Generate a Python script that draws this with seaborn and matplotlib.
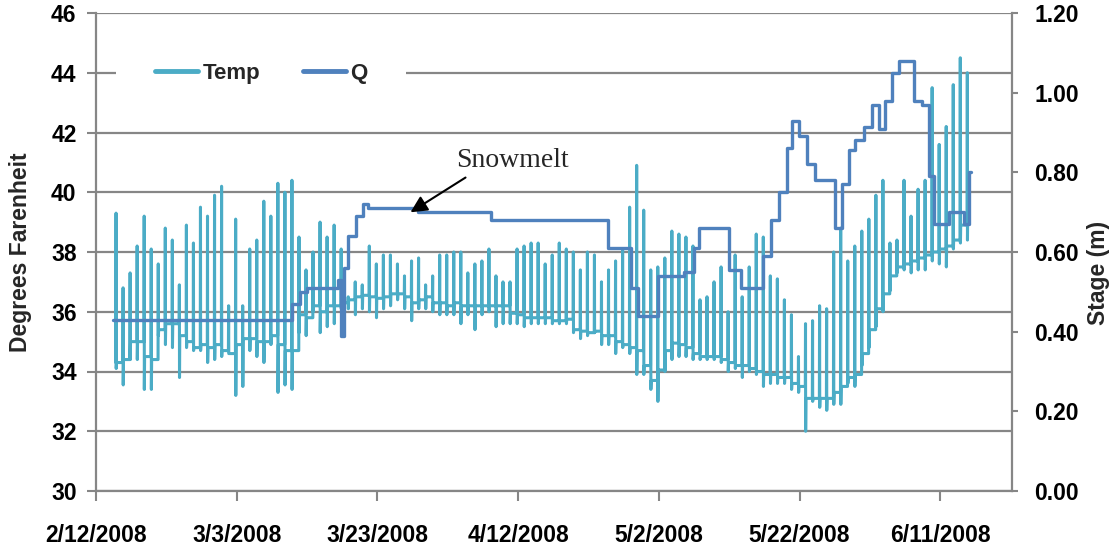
import numpy as np
import pandas as pd
import matplotlib
matplotlib.use("Agg")
import matplotlib.pyplot as plt
import matplotlib.dates as mdates
from matplotlib.lines import Line2D
import seaborn as sns

# ---------------- data ----------------
origin = pd.Timestamp("2008-02-12")
temp_first_day = 2.85          # days after 2/12/2008 of first daily spike

# daily temperature: spike top, spike bottom and the baseline level (deg F)
temp_peak = [39.3, 36.8, 37.3, 38.2, 39.2, 38.1, 37.6, 38.8, 38.4, 36.9, 38.9, 38.3, 39.5,
             39.2, 39.9, 40.2, 36.2, 39.1, 36.2, 38.1, 38.4, 39.7, 39.2, 40.3, 40.0, 40.4,
             38.5, 37.4, 38.0, 39.0, 38.5, 38.9, 38.1, 36.5, 37.0, 36.9, 38.2, 37.6, 37.9,
             37.9, 37.6, 37.2, 37.7, 37.8, 36.9, 37.2, 37.9, 37.9, 38.0, 38.0, 37.3, 37.6,
             37.7, 38.1,
             37.2, 37.0, 37.0, 38.1, 38.2, 38.3, 38.3, 37.6, 37.9, 38.3, 38.1, 38.0, 37.4,
             38.0, 37.9, 37.0, 37.4, 37.7, 38.1, 39.5, 40.9, 39.4, 37.4, 37.5, 37.8, 38.7,
             38.6, 38.5,
             38.2, 36.4, 36.5, 37.0, 37.5, 36.0, 37.9, 36.5, 37.5, 38.6, 38.5, 37.2, 37.1,
             36.4, 35.9, 34.5, 35.6, 35.7, 36.2, 36.1, 38.0, 38.8, 37.7, 38.2, 38.7, 39.1,
             39.9, 40.4, 38.3, 38.4, 40.4, 39.2, 40.1, 40.4, 43.5, 41.6, 42.2, 43.6, 44.5,
             44.0]
temp_low = [34.1, 33.55, 34.4, 34.4, 33.4, 33.4, 35.2, 34.9, 34.8, 33.8, 34.8, 34.7, 34.7,
            34.3, 34.4, 34.5, 34.6, 33.2, 33.5, 34.7, 34.5, 34.3, 34.9, 33.3, 33.55, 33.4,
            35.3, 35.2, 36.0, 35.3, 35.5, 35.6, 36.1, 36.1, 35.9, 36.1, 36.0, 35.8, 36.1,
            36.2, 36.4, 36.1, 35.7, 36.1, 36.1, 36.0, 35.9, 35.9, 35.9, 35.6, 35.9, 35.4,
            35.9, 36.0,
            35.5, 35.6, 35.6, 35.6, 35.5, 35.6, 35.6, 35.6, 35.6, 35.6, 35.6, 35.3, 35.1,
            35.2, 35.3, 34.9, 34.9, 34.6, 34.8, 34.6, 33.9, 33.9, 33.4, 33.0, 34.0, 34.4,
            34.5, 34.5,
            34.4, 34.4, 34.4, 34.4, 34.3, 34.0, 34.1, 33.8, 34.0, 33.9, 33.5, 33.6, 33.6,
            33.6, 33.4, 33.3, 32.0, 33.0, 32.8, 32.7, 32.9, 32.9, 33.6, 33.5, 34.2, 34.8,
            35.5, 36.0, 36.7, 37.3, 37.4, 37.3, 37.4, 37.4, 37.7, 37.6, 37.5, 38.1, 38.3,
            38.4]
temp_base = [34.3, 34.4, 35.0, 35.0, 34.5, 34.4, 35.4, 35.6, 35.6, 35.2, 35.0, 34.8, 34.9,
             34.8, 34.9, 34.7, 34.6, 34.9, 35.1, 35.1, 35.0, 35.0, 35.2, 34.9, 34.7, 34.7,
             35.9, 35.8, 36.2, 36.0, 36.2, 36.2, 36.3, 36.4, 36.5, 36.55, 36.5, 36.45, 36.5,
             36.6, 36.6, 36.5, 36.3, 36.4, 36.5, 36.3, 36.3, 36.2, 36.3, 36.2, 36.2, 36.2,
             36.2, 36.2,
             36.2, 36.2, 35.95, 35.9, 35.8, 35.8, 35.8, 35.8, 35.7, 35.7, 35.75, 35.4, 35.35,
             35.3, 35.35, 35.2, 35.2, 35.0, 34.9, 34.8, 34.7, 34.2, 33.7, 34.05, 34.7, 34.95,
             34.9, 34.8,
             34.6, 34.5, 34.5, 34.5, 34.4, 34.3, 34.2, 34.2, 34.1, 34.0, 33.9, 33.9, 33.8,
             33.8, 33.6, 33.5, 33.1, 33.1, 33.1, 33.1, 33.3, 33.5, 33.8, 33.9, 34.6, 35.4,
             36.1, 36.6, 37.2, 37.5, 37.6, 37.7, 37.8, 37.9, 38.0, 38.1, 38.2, 38.4, 38.9,
             39.4]

# stage Q (m): step changes, day offsets after 2/12/2008
q_day = [2.42, 27.92, 29.06, 30.06, 34.33, 34.76, 35.19, 35.75, 36.89, 37.89, 38.60,
         45.73, 56.13, 72.79, 76.07, 77.07, 79.91, 83.62, 85.04, 85.75, 90.03, 91.74,
         94.87, 96.01, 97.15, 98.15, 98.86, 99.86, 101.0, 102.14, 104.99, 105.98, 106.98,
         107.83, 109.12, 110.26, 111.25, 112.11, 113.11, 114.1, 116.24, 117.38, 118.38,
         119.09, 121.23, 123.36, 124.07, 124.36]
q_stage = [0.43, 0.47, 0.50, 0.51, 0.53, 0.39, 0.56, 0.64, 0.69, 0.72, 0.71,
           0.70, 0.68, 0.61, 0.51, 0.44, 0.54, 0.55, 0.61, 0.66, 0.555, 0.51,
           0.59, 0.68, 0.75, 0.86, 0.93, 0.89, 0.82, 0.78, 0.66, 0.77, 0.855,
           0.88, 0.915, 0.97, 0.91, 0.98, 1.05, 1.08, 0.98, 0.97, 0.79,
           0.67, 0.70, 0.67, 0.80, 0.80]

tick_dates = ["2008-02-12", "2008-03-03", "2008-03-23", "2008-04-12",
              "2008-05-02", "2008-05-22", "2008-06-11"]
tick_labels = ["2/12/2008", "3/3/2008", "3/23/2008", "4/12/2008",
               "5/2/2008", "5/22/2008", "6/11/2008"]
left_ticks = [30, 32, 34, 36, 38, 40, 42, 44, 46]
right_ticks = [0.0, 0.2, 0.4, 0.6, 0.8, 1.0, 1.2]

# ---------------- build series ----------------
t_off, t_val = [temp_first_day - 0.03], [temp_base[0]]
for k in range(len(temp_peak)):
    d = temp_first_day + k
    t_off += [d, d + 0.02, d + 0.06, d + 0.97]
    t_val += [temp_peak[k], temp_low[k], temp_base[k], temp_base[k]]
t_off = t_off[:-1]
t_val = t_val[:-1]
temp_df = pd.DataFrame({"date": origin + pd.to_timedelta(t_off, unit="D"), "temp": t_val})
q_df = pd.DataFrame({"date": origin + pd.to_timedelta(q_day, unit="D"), "stage": q_stage})

# ---------------- style ----------------
sns.set_theme(style="white")
plt.rcParams["font.family"] = ["Liberation Sans", "DejaVu Sans"]
plt.rcParams["font.weight"] = "bold"
plt.rcParams["axes.labelweight"] = "bold"

TEMP_C = "#4BACC6"
Q_C = "#4F81BD"
GRID_C = "#868686"
FS = 16.5

W, H = 1112, 550
fig = plt.figure(figsize=(W / 100, H / 100), dpi=100)
x0, x1, y0, y1 = 96, 1012, 13, 491
ax = fig.add_axes([x0 / W, 1 - y1 / H, (x1 - x0) / W, (y1 - y0) / H])
ax2 = ax.twinx()

sns.lineplot(data=temp_df, x="date", y="temp", ax=ax, color=TEMP_C, lw=2.2,
             sort=False, estimator=None, legend=False)
sns.lineplot(data=q_df, x="date", y="stage", ax=ax2, color=Q_C, lw=2.4,
             sort=False, estimator=None, legend=False, drawstyle="steps-post")

ax.set_xlim(origin, origin + pd.Timedelta(days=130.2))
ax.set_ylim(30, 46)
ax2.set_ylim(0, 1.2)

ax.set_yticks(left_ticks)
ax.set_yticklabels([str(v) for v in left_ticks])
ax2.set_yticks(right_ticks)
ax2.set_yticklabels([f"{v:.2f}" for v in right_ticks])
ax.set_xticks(pd.to_datetime(tick_dates))
ax.set_xticklabels(tick_labels)

ax.yaxis.grid(True, color=GRID_C, lw=1.6)
ax.xaxis.grid(False)
ax.set_axisbelow(True)
ax2.grid(False)

for a in (ax, ax2):
    for s in a.spines.values():
        s.set_visible(False)
for name in ("left", "bottom"):
    ax.spines[name].set_visible(True)
    ax.spines[name].set_color(GRID_C)
    ax.spines[name].set_linewidth(1.6)
ax2.spines["right"].set_visible(True)
ax2.spines["right"].set_color(GRID_C)
ax2.spines["right"].set_linewidth(1.6)

ax.tick_params(axis="y", which="major", direction="out", length=6.5, width=1.5,
               color=GRID_C, labelsize=FS, labelcolor="black", pad=7.5, left=True)
ax.tick_params(axis="x", which="major", direction="out", length=7, width=1.5,
               color=GRID_C, labelsize=FS, labelcolor="black", pad=17, bottom=True)
ax2.tick_params(axis="y", direction="out", length=4, width=1.5, color=GRID_C,
                labelsize=FS, labelcolor="black", pad=12, right=True)

ax.set_xlabel("")
ax.set_ylabel("Degrees Farenheit", fontsize=FS, labelpad=13.5)
ax2.set_ylabel("Stage (m)", fontsize=FS, labelpad=12)
ax2.yaxis.set_label_coords(1.082, 0.456)

handles = [Line2D([], [], color=TEMP_C, lw=3.5), Line2D([], [], color=Q_C, lw=3.5)]
leg = ax2.legend(handles, ["Temp", "Q"], ncol=2, loc="center left",
                 bbox_to_anchor=((116 - x0) / (x1 - x0), (y1 - 73.5) / (y1 - y0)),
                 borderaxespad=0, borderpad=1.75, frameon=True, fancybox=False,
                 handlelength=1.95, handletextpad=0.2, columnspacing=1.9,
                 prop={"size": FS - 0.5, "weight": "bold"})
leg.get_frame().set_facecolor("white")
leg.get_frame().set_edgecolor("none")
leg.get_frame().set_alpha(1.0)

arrow_xy = (mdates.date2num(origin + pd.Timedelta(days=44.7)), 39.33)
text_xy = (mdates.date2num(origin + pd.Timedelta(days=59.2)), 41.07)
ax2.annotate("Snowmelt", xy=arrow_xy, xycoords=ax.transData,
             xytext=text_xy, textcoords=ax.transData,
             ha="center", va="center", fontsize=20, fontweight="normal",
             family=["Liberation Serif", "DejaVu Serif"],
             arrowprops=dict(arrowstyle="-|>", color="black", lw=1.5,
                             mutation_scale=25, relpos=(0.15, 0.0), shrinkA=2, shrinkB=0))

fig.savefig("out.png", dpi=100)
